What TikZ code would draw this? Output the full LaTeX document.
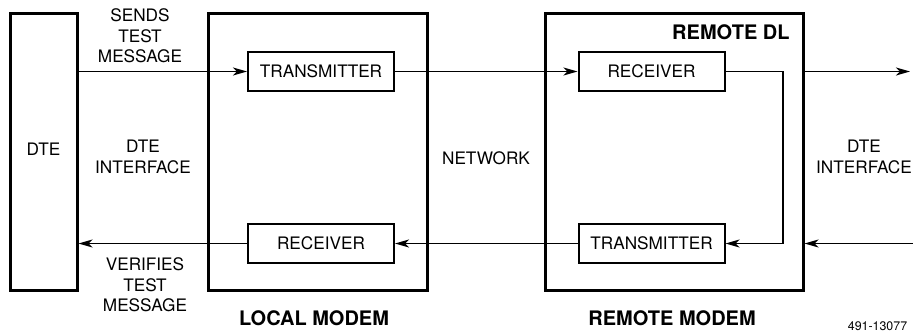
\documentclass[tikz,border=0pt]{standalone}
\usepackage{fontspec}
\setmainfont{TeX Gyre Heros}
\usetikzlibrary{arrows.meta, positioning}

\begin{document}
\begin{tikzpicture}[
    x=0.5pt, y=-0.5pt,
    font=\fontsize{8.6}{10.3}\selectfont,
    bigbox/.style={rectangle, draw, line width=1.5pt, minimum height=138.5pt, inner sep=0pt},
    unit/.style={rectangle, draw, line width=1pt, minimum width=73pt, minimum height=19.5pt, inner sep=0pt},
    caption/.style={align=center, inner sep=0pt},
    title/.style={font=\fontsize{10}{12}\selectfont\bfseries, inner sep=0pt},
    arrow/.style={-{Stealth[length=7pt, width=4pt, inset=2pt]}, line width=0.75pt}
]
\useasboundingbox (0,0) rectangle (913,332);

% Boxes
\node[bigbox, minimum width=33.5pt] (dte) at (43.5,151.5) {\raisebox{2.5pt}{DTE}};
\node[bigbox, minimum width=109.5pt] (local) at (317.5,151.5) {};
\node[bigbox, minimum width=129pt] (remote) at (674,151.5) {};

% Units inside the modems
\node[unit] (ltx) at (321,71.5) {TRANSMITTER};
\node[unit] (lrx) at (321,243.5) {RECEIVER};
\node[unit] (rrx) at (651.5,71.5) {RECEIVER};
\node[unit] (rtx) at (651.5,243.5) {TRANSMITTER};

% Free ends
\coordinate (loop) at (783,243.5);
\coordinate (out) at (910,71.5);
\coordinate (in) at (913,243.5);

% Labels
\node[caption] (sends) at (140,36) {SENDS\\TEST\\MESSAGE};
\node[caption] (ifleft) at (143,157) {DTE\\INTERFACE};
\node[caption] (verifies) at (145,285) {VERIFIES\\TEST\\MESSAGE};
\node[caption] (net) at (486,158) {NETWORK};
\node[caption] (ifright) at (864,157) {DTE\\INTERFACE};
\node[title, font=\bfseries, anchor=east] (dl) at (790,32.5) {REMOTE DL};
\node[title] (lname) at (314,318) {LOCAL MODEM};
\node[title] (rname) at (672,318) {REMOTE MODEM};
\node[inner sep=0pt, font=\fontsize{6.2}{7}\selectfont] (fig) at (877.5,326) {491-13077};

% Edges
\draw[arrow] (dte.east |- ltx) -- (ltx.west);
\draw[arrow] (ltx.east) -- (rrx.west);
\draw[arrow] (rrx.east) -| (loop) -- (rtx.east);
\draw[arrow] (remote.east |- rrx) -- (out);
\draw[arrow] (in) -- (remote.east |- rtx);
\draw[arrow] (rtx.west) -- (lrx.east);
\draw[arrow] (lrx.west) -- (dte.east |- lrx);

\end{tikzpicture}
\end{document}
